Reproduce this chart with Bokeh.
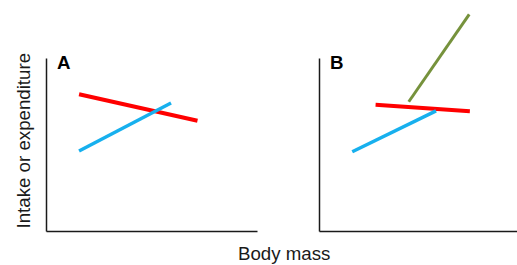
import math
from bokeh.plotting import figure
from bokeh.layouts import row, column
from bokeh.models import Range1d, FixedTicker, Label, Div, Title
from bokeh.embed import file_html
from bokeh.resources import INLINE

# ---- data (arbitrary units: x = body mass, y = intake or expenditure) ----
a_red_x = [1.55, 7.19]
a_red_y = [7.93, 6.40]
a_blue_x = [1.55, 5.93]
a_blue_y = [4.65, 7.43]

b_green_x = [4.25, 7.13]
b_green_y = [7.50, 12.55]
b_red_x = [2.67, 7.16]
b_red_y = [7.33, 6.95]
b_blue_x = [1.56, 5.55]
b_blue_y = [4.61, 6.97]

panel_labels = ["A", "B"]
x_label = "Body mass"
y_label = "Intake or expenditure"

# ---- styling ----
RED = "#FF0000"
BLUE = "#17B0EE"
GREEN = "#76923C"
AXIS = "#1a1a1a"
FONT = "Liberation Sans"
FS = "18.7px"
PX_X = 21.0   # pixels per x unit
PX_Y = 17.3   # pixels per y unit
H = 242
TOP = 8
BOTTOM = 11


def make_fig(width, left, right):
    fw = width - left - right
    fh = H - TOP - BOTTOM
    p = figure(width=width, height=H, output_backend="svg", toolbar_location=None,
               x_range=Range1d(0, fw / PX_X), y_range=Range1d(0, fh / PX_Y),
               min_border_left=left, min_border_right=right,
               min_border_top=TOP, min_border_bottom=BOTTOM)
    p.outline_line_color = None
    p.grid.visible = False
    p.background_fill_color = "white"
    p.border_fill_color = "white"
    for ax in (p.xaxis, p.yaxis):
        ax.ticker = FixedTicker(ticks=[])
        ax.minor_tick_line_color = None
        ax.major_tick_line_color = None
        ax.axis_line_color = AXIS
        ax.axis_line_width = 1.5
    p.yaxis.bounds = (0, 10)
    return p


pA = make_fig(290, 46, 33)
pA.line(a_red_x, a_red_y, line_color=RED, line_width=4)
pA.line(a_blue_x, a_blue_y, line_color=BLUE, line_width=3.5)
pA.add_layout(Label(x=0.5, y=10.35, text=panel_labels[0], text_font=FONT,
                    text_font_size=FS, text_font_style="bold",
                    text_baseline="top", text_color="#000000"))
pA.add_layout(Title(text=y_label, align="left", offset=3, standoff=21,
                    vertical_align="top",
                    text_font=FONT, text_font_size=FS, text_font_style="normal",
                    text_color="#1a1a1a"), "left")

pB = make_fig(227, 29, 0)
pB.line(b_green_x, b_green_y, line_color=GREEN, line_width=3)
pB.line(b_red_x, b_red_y, line_color=RED, line_width=4)
pB.line(b_blue_x, b_blue_y, line_color=BLUE, line_width=3.5)
pB.add_layout(Label(x=0.5, y=10.35, text=panel_labels[1], text_font=FONT,
                    text_font_size=FS, text_font_style="bold",
                    text_baseline="top", text_color="#000000"))

div = Div(text=x_label, width=517, height=23,
          styles={"font-family": FONT, "font-size": FS, "color": "#1a1a1a",
                  "line-height": "20px",
                  "padding-left": "238px", "padding-top": "2px", "margin": "0"})

layout = column(row(pA, pB, spacing=0), div, spacing=0)

open("out.html", "w").write(file_html(layout, INLINE))
